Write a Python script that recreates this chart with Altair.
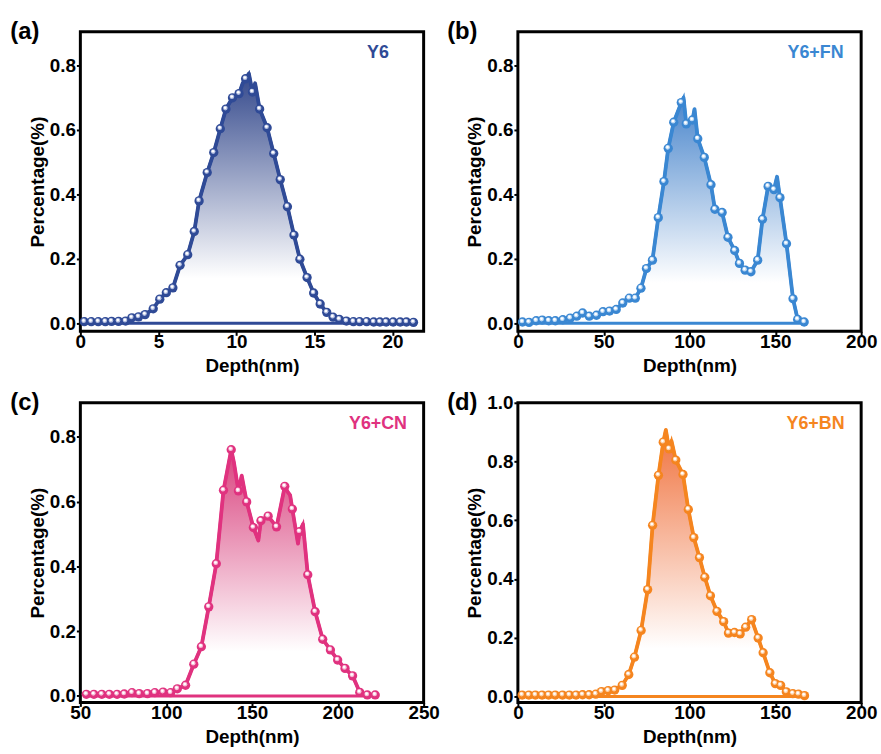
import altair as alt
import pandas as pd

FONT = "Liberation Sans"

# ---------------- (a) Y6 ----------------
a_depth = [0.25, 0.7, 1.15, 1.6, 2.0, 2.45, 2.9, 3.3, 3.73, 4.15, 4.67, 5.09, 5.51, 5.93, 6.39, 6.88,
           7.30, 7.61, 8.13, 8.55, 8.97, 9.33, 9.75, 10.17, 10.59, 11.03, 11.49, 11.97, 12.39, 12.81,
           13.27, 13.69, 14.07, 14.53, 14.95, 15.37, 15.79, 16.2, 16.6, 17.05, 17.5, 17.9, 18.35, 18.8,
           19.2, 19.6, 20.05, 20.5, 20.9, 21.35]
a_pct = [0.005, 0.005, 0.005, 0.005, 0.006, 0.006, 0.007, 0.017, 0.02, 0.027, 0.045, 0.075, 0.095,
         0.11, 0.18, 0.213, 0.285, 0.38, 0.468, 0.53, 0.604, 0.665, 0.70, 0.713, 0.759, 0.718, 0.665,
         0.607, 0.527, 0.446, 0.362, 0.274, 0.199, 0.142, 0.094, 0.06, 0.034, 0.019, 0.012, 0.007,
         0.005, 0.005, 0.005, 0.004, 0.004, 0.004, 0.004, 0.004, 0.004, 0.003]
a_spike_depth = [10.4, 10.8, 11.2]
a_spike_pct = [0.745, 0.775, 0.745]

# ---------------- (b) Y6+FN ----------------
b_depth = [2.7, 6.5, 10.7, 14.2, 18.0, 21.8, 26.2, 30.5, 34.3, 37.7, 41.6, 45.8, 49.6, 53.4, 57.3,
           61.1, 64.9, 68.4, 71.7, 74.9, 78.4, 81.8, 85.1, 87.6, 90.8, 95.2, 98.1, 101.7, 104.8, 108.6,
           112.5, 114.8, 119.0, 122.4, 126.3, 129.1, 132.4, 135.8, 139.7, 142.5, 145.8, 149.2, 152.7,
           156.5, 160.3, 163.0, 166.8]
b_pct = [0.004, 0.003, 0.008, 0.01, 0.008, 0.008, 0.011, 0.016, 0.022, 0.032, 0.022, 0.025, 0.036,
         0.038, 0.043, 0.063, 0.078, 0.078, 0.109, 0.17, 0.196, 0.328, 0.44, 0.543, 0.624, 0.685,
         0.619, 0.631, 0.573, 0.515, 0.43, 0.354, 0.344, 0.267, 0.226, 0.186, 0.165, 0.16, 0.196,
         0.323, 0.425, 0.415, 0.39, 0.247, 0.076, 0.012, 0.004]
b_spike_depth = [96.5, 102.9, 151.0]
b_spike_pct = [0.70, 0.665, 0.455]

# ---------------- (c) Y6+CN ----------------
c_depth = [53.5, 57.9, 62.5, 66.9, 71.4, 75.6, 80.1, 84.3, 89.1, 93.4, 98.2, 102.6, 106.5, 111.3,
           116.1, 120.5, 124.8, 129.2, 133.4, 137.9, 142.1, 146.9, 150.8, 155.2, 159.4, 164.3, 169.1,
           173.5, 177.7, 182.5, 186.8, 191.2, 195.7, 199.9, 204.2, 208.6, 212.8, 217.2, 221.8]
c_pct = [0.005, 0.005, 0.005, 0.005, 0.005, 0.006, 0.01, 0.007, 0.007, 0.01, 0.012, 0.01, 0.022,
         0.033, 0.098, 0.152, 0.275, 0.408, 0.635, 0.76, 0.633, 0.599, 0.52, 0.541, 0.555, 0.522,
         0.647, 0.577, 0.507, 0.374, 0.26, 0.175, 0.142, 0.111, 0.085, 0.062, 0.011, 0.003, 0.003]
c_spike_depth = [139.5, 144.0, 153.7, 170.8, 172.2, 176.8, 179.7]
c_spike_pct = [0.72, 0.68, 0.48, 0.63, 0.62, 0.47, 0.53]

# ---------------- (d) Y6+BN ----------------
d_depth = [2.5, 6.4, 10.2, 14.1, 17.9, 21.8, 26.0, 30.0, 33.9, 37.7, 41.5, 45.4, 48.7, 52.6, 56.4,
           60.8, 64.6, 67.9, 71.8, 75.6, 78.5, 81.9, 84.7, 88.1, 92.0, 96.2, 99.3, 102.5, 105.8, 108.9,
           112.2, 116.0, 119.9, 122.7, 126.2, 129.5, 132.7, 136.2, 140.0, 142.9, 146.8, 150.0, 153.1,
           156.4, 160.2, 163.5, 167.0]
d_pct = [0.005, 0.005, 0.005, 0.005, 0.005, 0.005, 0.005, 0.005, 0.005, 0.006, 0.006, 0.008, 0.017,
         0.02, 0.022, 0.038, 0.075, 0.134, 0.225, 0.364, 0.583, 0.753, 0.866, 0.843, 0.805, 0.756,
         0.637, 0.541, 0.473, 0.406, 0.343, 0.29, 0.255, 0.216, 0.218, 0.213, 0.236, 0.262, 0.199,
         0.149, 0.081, 0.044, 0.038, 0.016, 0.01, 0.008, 0.003]
d_spike_depth = [86.2, 89.5]
d_spike_pct = [0.908, 0.87]

W, H = 346, 302


def panel(depth, pct, sdepth, spct, color, light, top, label, letter,
          xdom, xticks, ydom, yticks):
    markers = pd.DataFrame({"d": depth, "p": pct})
    line_df = pd.concat([markers, pd.DataFrame({"d": sdepth, "p": spct})]).sort_values("d")
    xs = alt.Scale(domain=xdom, nice=False, zero=False)
    ys = alt.Scale(domain=ydom, nice=False, zero=False)
    x = alt.X("d:Q", scale=xs, axis=alt.Axis(values=xticks, title="Depth(nm)", format="d",
                                              labelPadding=-3, titlePadding=5))
    y = alt.Y("p:Q", scale=ys, axis=alt.Axis(values=yticks, title="Percentage(%)", format=".1f"))
    grad = alt.Gradient(
        gradient="linear", x1=1, x2=1, y1=1, y2=0,
        stops=[alt.GradientStop(color="white", offset=0),
               alt.GradientStop(color="white", offset=0.18),
               alt.GradientStop(color=top, offset=1)])
    area = alt.Chart(line_df).mark_area(color=grad, stroke=color, strokeWidth=3).encode(
        x=x, y=y, y2=alt.datum(0))
    line = alt.Chart(line_df).mark_line(color=color, strokeWidth=3.8,
                                        strokeJoin="round").encode(x="d:Q", y="p:Q")
    ball = alt.Chart(markers).mark_circle(color=color, size=88, opacity=1).encode(x="d:Q", y="p:Q")
    mid = alt.Chart(markers).mark_circle(color=light, size=22, opacity=1, xOffset=-0.6,
                                         yOffset=-1).encode(x="d:Q", y="p:Q")
    hl = alt.Chart(markers).mark_circle(color="white", size=7, opacity=1, xOffset=-0.8,
                                        yOffset=-1.3).encode(x="d:Q", y="p:Q")
    name = alt.Chart(pd.DataFrame({"t": [label]})).mark_text(
        font=FONT, fontSize=18, fontWeight="bold", color=color, align="center",
        baseline="middle").encode(text="t:N", x=alt.value(300), y=alt.value(21))
    let = alt.Chart(pd.DataFrame({"t": [letter]})).mark_text(
        font=FONT, fontSize=24, fontWeight="bold", color="black", align="center",
        baseline="middle").encode(text="t:N", x=alt.value(-56), y=alt.value(0))
    return alt.layer(area, line, ball, mid, hl, name, let).properties(width=W, height=H)


pa = panel(a_depth, a_pct, a_spike_depth, a_spike_pct, "#2F4A96", "#B3BEE0", "#34498C",
           "Y6", "(a)", [0, 22], [0, 5, 10, 15, 20], [-0.025, 0.905], [0, 0.2, 0.4, 0.6, 0.8])
pb = panel(b_depth, b_pct, b_spike_depth, b_spike_pct, "#3A87D2", "#BBD8F4", "#4A86CC",
           "Y6+FN", "(b)", [0, 200], [0, 50, 100, 150, 200], [-0.025, 0.905],
           [0, 0.2, 0.4, 0.6, 0.8])
pc = panel(c_depth, c_pct, c_spike_depth, c_spike_pct, "#E0327F", "#F6BCD6", "#D9427E",
           "Y6+CN", "(c)", [50, 250], [50, 100, 150, 200, 250], [-0.02, 0.905],
           [0, 0.2, 0.4, 0.6, 0.8])
pd_ = panel(d_depth, d_pct, d_spike_depth, d_spike_pct, "#F5851F", "#FCD0A8", "#F0733F",
            "Y6+BN", "(d)", [0, 200], [0, 50, 100, 150, 200], [-0.02, 1.0],
            [0, 0.2, 0.4, 0.6, 0.8, 1.0])

chart = alt.concat(pa, pb, pc, pd_, columns=2, spacing={"row": 12, "column": 4}).properties(
    padding={"left": 8, "top": 15, "right": 2, "bottom": 2}
).configure_view(stroke="black", strokeWidth=3).configure_axis(
    labelFont=FONT, labelFontSize=19, labelFontWeight="bold", labelColor="black",
    titleFont=FONT, titleFontSize=19, titleFontWeight="bold", titleColor="black",
    domain=False, grid=False, ticks=True, tickColor="black", tickWidth=2, tickSize=4,
    labelPadding=1, titlePadding=2, labelFlush=False
)

chart.save("out.html", embed_options={"renderer": "svg", "actions": False})
